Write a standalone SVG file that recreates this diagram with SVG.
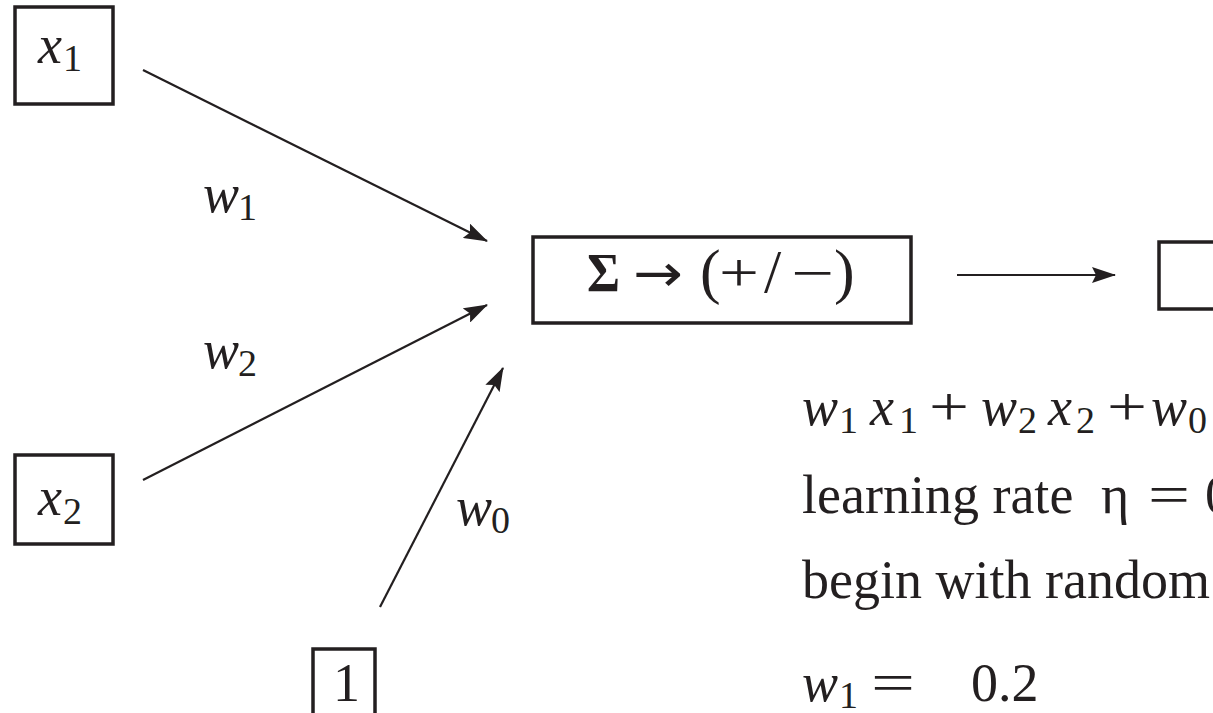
<svg xmlns="http://www.w3.org/2000/svg" width="1213" height="713" viewBox="0 0 1213 713">
<style>
.box{fill:none;stroke:#231f20;stroke-width:3.5}
.ln{fill:none;stroke:#231f20;stroke-width:2.2}
text{font-family:"Liberation Serif","Times New Roman",serif;fill:#231f20}
.m{font-size:54px}
.i{font-style:italic}
.s{font-size:38px}
.p{font-size:62px}
.ar{font-family:"DejaVu Sans",sans-serif;font-size:52px}
</style>
<defs>
<marker id="ah" markerUnits="userSpaceOnUse" markerWidth="24" markerHeight="16" viewBox="0 0 24 16" refX="23" refY="8" orient="auto">
<path d="M0,0 L24,8 L0,16 L4,8 z" fill="#231f20"/>
</marker>
</defs>
<rect width="1213" height="713" fill="#fff"/>
<g id="connectors">
<line class="ln" x1="143" y1="70" x2="487" y2="241" marker-end="url(#ah)"/>
<line class="ln" x1="143" y1="480" x2="487" y2="305" marker-end="url(#ah)"/>
<line class="ln" x1="380" y1="607" x2="503" y2="368" marker-end="url(#ah)"/>
<line class="ln" x1="957" y1="275" x2="1115" y2="275" marker-end="url(#ah)"/>
</g>
<g id="node-x1">
<rect class="box" x="15" y="7" width="98" height="97"/>
<text class="m i" x="38" y="63">x</text><text class="s" x="63" y="71">1</text>
</g>
<g id="node-x2">
<rect class="box" x="15" y="455" width="98" height="89"/>
<text class="m i" x="38" y="515">x</text><text class="s" x="63" y="524">2</text>
</g>
<g id="node-1">
<rect class="box" x="313" y="649" width="62" height="80"/>
<text class="m" x="333" y="701">1</text>
</g>
<g id="node-sum">
<rect class="box" x="533" y="237" width="378" height="86"/>
<text class="m" x="587" y="291" font-weight="bold" textLength="33" lengthAdjust="spacingAndGlyphs">Σ</text>
<text class="ar" x="633" y="291" textLength="50" lengthAdjust="spacingAndGlyphs">→</text>
<text class="p" x="700" y="292">(</text>
<text class="m" x="719" y="291" textLength="40" lengthAdjust="spacingAndGlyphs">+</text>
<text class="p" x="764" y="292">/</text>
<text class="m" x="791" y="291" textLength="43" lengthAdjust="spacingAndGlyphs">−</text>
<text class="p" x="834" y="292">)</text>
</g>
<g id="node-out">
<rect class="box" x="1159" y="242" width="80" height="67"/>
</g>
<g id="labels">
<text class="m i" x="203" y="212">w</text><text class="s" x="238" y="220">1</text>
<text class="m i" x="203" y="368">w</text><text class="s" x="238" y="376">2</text>
<text class="m i" x="456" y="525">w</text><text class="s" x="491" y="533">0</text>
</g>
<g id="notes">
<text class="m i" x="802" y="425">w</text><text class="s" x="839" y="433">1</text>
<text class="m i" x="870" y="425">x</text><text class="s" x="899" y="433">1</text>
<text class="m" x="929" y="425" textLength="40" lengthAdjust="spacingAndGlyphs">+</text>
<text class="m i" x="981" y="425">w</text><text class="s" x="1018" y="433">2</text>
<text class="m i" x="1048" y="425">x</text><text class="s" x="1076" y="433">2</text>
<text class="m" x="1107" y="425" textLength="40" lengthAdjust="spacingAndGlyphs">+</text>
<text class="m i" x="1151" y="425">w</text><text class="s" x="1188" y="433">0</text>
<text class="m" x="802" y="513">learning rate</text>
<text class="m" x="1101" y="513">η</text>
<text class="m" x="1148" y="513" textLength="42" lengthAdjust="spacingAndGlyphs">=</text>
<text class="m" x="1205" y="513">0</text>
<text class="m" x="802" y="598">begin with random</text>
<text class="m i" x="802" y="701">w</text><text class="s" x="839" y="708">1</text>
<text class="m" x="871" y="701" textLength="44" lengthAdjust="spacingAndGlyphs">=</text>
<text class="m" x="971" y="701">0.2</text>
</g>
</svg>
